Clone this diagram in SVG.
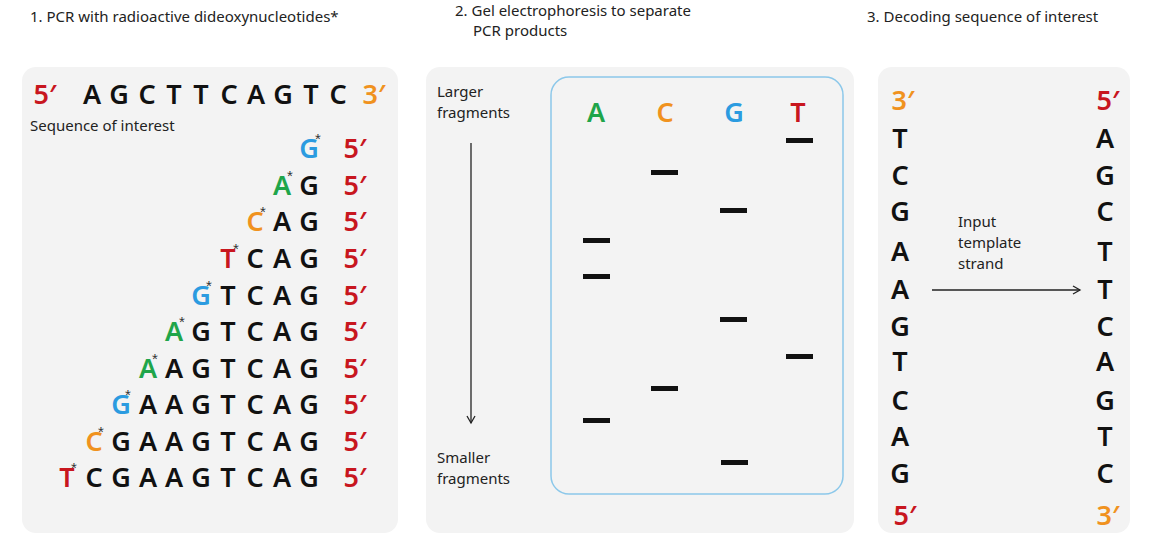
<svg xmlns="http://www.w3.org/2000/svg" width="1162" height="536" viewBox="0 0 1162 536">
<style>
.h{font-family:"Noto Sans","Liberation Sans",sans-serif;font-size:15px;fill:#222}
.b{font-family:"Noto Sans","Liberation Sans",sans-serif;font-weight:600;font-size:27px;fill:#111;text-anchor:middle}
.r{fill:#c8161e}.o{fill:#f0921e}.g{fill:#1fa54a}.u{fill:#2b9be0}
.s{font-family:"Liberation Sans",sans-serif;font-size:15px;fill:#333;text-anchor:middle}
.panel{fill:#f3f3f3}
.band{fill:#111}
</style>
<defs><marker id="ah" markerWidth="10" markerHeight="10" refX="8" refY="5" orient="auto" markerUnits="userSpaceOnUse"><path d="M1,1 L8,5 L1,9" fill="none" stroke="#222" stroke-width="1.3"/></marker></defs>
<rect width="1162" height="536" fill="#fff"/>
<text class="h" x="30" y="22">1. PCR with radioactive dideoxynucleotides*</text>
<text class="h" x="455" y="16">2. Gel electrophoresis to separate</text>
<text class="h" x="473" y="36">PCR products</text>
<text class="h" x="867" y="22">3. Decoding sequence of interest</text>
<g id="panel1">
<rect class="panel" x="22" y="67" width="376" height="466" rx="14"/>
<text class="b r" x="45" y="104">5′</text>
<g class="b"><text x="92" y="104">A</text><text x="119" y="104">G</text><text x="147" y="104">C</text><text x="174" y="104">T</text><text x="201" y="104">T</text><text x="229" y="104">C</text><text x="256" y="104">A</text><text x="283" y="104">G</text><text x="311" y="104">T</text><text x="338" y="104">C</text></g>
<text class="b o" x="374" y="104">3′</text>
<text class="h" x="30" y="131">Sequence of interest</text>
<g class="b">
<text x="309" y="158" class="b u">G</text>
<text x="282" y="195" class="b g">A</text><text x="309" y="195">G</text>
<text x="255" y="231" class="b o">C</text><text x="282" y="231">A</text><text x="309" y="231">G</text>
<text x="228" y="268" class="b r">T</text><text x="255" y="268">C</text><text x="282" y="268">A</text><text x="309" y="268">G</text>
<text x="201" y="305" class="b u">G</text><text x="228" y="305">T</text><text x="255" y="305">C</text><text x="282" y="305">A</text><text x="309" y="305">G</text>
<text x="174" y="341" class="b g">A</text><text x="201" y="341">G</text><text x="228" y="341">T</text><text x="255" y="341">C</text><text x="282" y="341">A</text><text x="309" y="341">G</text>
<text x="148" y="378" class="b g">A</text><text x="174" y="378">A</text><text x="201" y="378">G</text><text x="228" y="378">T</text><text x="255" y="378">C</text><text x="282" y="378">A</text><text x="309" y="378">G</text>
<text x="121" y="414" class="b u">G</text><text x="148" y="414">A</text><text x="174" y="414">A</text><text x="201" y="414">G</text><text x="228" y="414">T</text><text x="255" y="414">C</text><text x="282" y="414">A</text><text x="309" y="414">G</text>
<text x="94" y="451" class="b o">C</text><text x="121" y="451">G</text><text x="148" y="451">A</text><text x="174" y="451">A</text><text x="201" y="451">G</text><text x="228" y="451">T</text><text x="255" y="451">C</text><text x="282" y="451">A</text><text x="309" y="451">G</text>
<text x="67" y="487" class="b r">T</text><text x="94" y="487">C</text><text x="121" y="487">G</text><text x="148" y="487">A</text><text x="174" y="487">A</text><text x="201" y="487">G</text><text x="228" y="487">T</text><text x="255" y="487">C</text><text x="282" y="487">A</text><text x="309" y="487">G</text>
</g>
<g class="b r"><text x="355" y="158">5′</text><text x="355" y="195">5′</text><text x="355" y="231">5′</text><text x="355" y="268">5′</text><text x="355" y="305">5′</text><text x="355" y="341">5′</text><text x="355" y="378">5′</text><text x="355" y="414">5′</text><text x="355" y="451">5′</text><text x="355" y="487">5′</text></g>
<g class="s"><text x="318" y="144">*</text><text x="290" y="181">*</text><text x="263" y="217">*</text><text x="236" y="254">*</text><text x="209" y="291">*</text><text x="182" y="327">*</text><text x="155" y="364">*</text><text x="128" y="400">*</text><text x="101" y="437">*</text><text x="74" y="473">*</text></g>
</g>
<g id="panel2">
<rect class="panel" x="426" y="67" width="428" height="466" rx="14"/>
<rect x="551" y="77" width="292" height="417" rx="18" fill="none" stroke="#8cc8ea" stroke-width="1.5"/>
<text class="h" x="437" y="97">Larger</text><text class="h" x="437" y="118">fragments</text>
<text class="h" x="437" y="463">Smaller</text><text class="h" x="437" y="484">fragments</text>
<g class="b"><text x="596" y="122" class="b g">A</text><text x="665" y="122" class="b o">C</text><text x="734" y="122" class="b u">G</text><text x="798" y="122" class="b r">T</text></g>
<g class="band">
<rect x="786" y="138" width="27" height="5"/><rect x="651" y="170" width="27" height="5"/><rect x="720" y="208" width="27" height="5"/>
<rect x="583" y="238" width="27" height="5"/><rect x="583" y="274" width="27" height="5"/><rect x="720" y="317" width="27" height="5"/>
<rect x="786" y="354" width="27" height="5"/><rect x="651" y="386" width="27" height="5"/><rect x="583" y="418" width="27" height="5"/>
<rect x="721" y="460" width="27" height="5"/>
</g>
</g>
<g id="panel3">
<rect class="panel" x="878" y="67" width="252" height="466" rx="14"/>
<g class="b">
<text x="903" y="110" class="b o">3′</text><text x="900" y="148">T</text><text x="900" y="185">C</text><text x="900" y="221">G</text><text x="900" y="261">A</text><text x="900" y="299">A</text><text x="900" y="336">G</text><text x="900" y="371">T</text><text x="900" y="410">C</text><text x="900" y="446">A</text><text x="900" y="483">G</text><text x="905" y="525" class="b r">5′</text>
<text x="1108" y="110" class="b r">5′</text><text x="1105" y="148">A</text><text x="1105" y="185">G</text><text x="1105" y="221">C</text><text x="1105" y="261">T</text><text x="1105" y="299">T</text><text x="1105" y="336">C</text><text x="1105" y="371">A</text><text x="1105" y="410">G</text><text x="1105" y="446">T</text><text x="1105" y="483">C</text><text x="1108" y="525" class="b o">3′</text>
</g>
<text class="h" x="958" y="227">Input</text><text class="h" x="958" y="248">template</text><text class="h" x="958" y="269">strand</text>
</g>
<g id="connectors" stroke="#222" stroke-width="1.3" fill="none">
<line x1="471" y1="143" x2="471" y2="423" marker-end="url(#ah)"/>
<line x1="932" y1="290" x2="1080" y2="290" marker-end="url(#ah)"/>
</g>
</svg>
